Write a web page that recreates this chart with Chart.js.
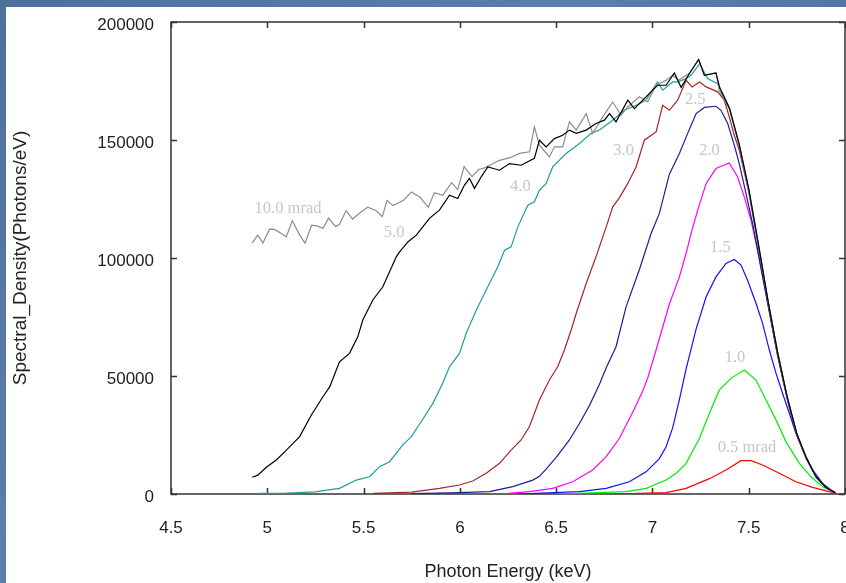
<!DOCTYPE html>
<html>
<head>
<meta charset="utf-8">
<script src="https://cdn.jsdelivr.net/npm/chart.js@4/dist/chart.umd.min.js"></script>
<style>
  html, body { margin: 0; padding: 0; }
  body {
    width: 846px; height: 583px; overflow: hidden;
    background: #5276a2;
    background-image: linear-gradient(135deg, #4d719d 0%, #5a7fab 40%, #4f739f 70%, #5879a5 100%);
  }
  #panel { position: absolute; left: 6px; top: 7px; width: 840px; height: 576px; background: #fff; }
</style>
</head>
<body>
<div id="panel"><canvas id="chartSpectra" width="840" height="576"></canvas></div>
<script>
// Spectral density curves, one per angular acceptance (mrad)
const e10 = [4.922,4.950,4.977,5.012,5.038,5.073,5.099,5.130,5.168,5.196,5.230,5.263,5.289,5.318,5.355,5.375,5.409,5.443,5.488,5.522,5.566,5.597,5.622,5.653,5.708,5.748,5.793,5.836,5.868,5.911,5.957,5.989,6.022,6.063,6.099,6.119,6.160,6.206,6.260,6.310,6.362,6.387,6.413,6.465,6.491,6.534,6.569,6.604,6.656,6.690,6.742,6.794,6.837,6.872,6.932,6.975,7.019,7.071,7.105,7.136,7.192,7.240,7.270,7.330,7.347,7.40,7.45,7.50,7.55,7.60,7.65,7.70,7.75,7.80,7.85,7.90,7.95];
const v10 = [106300,109700,106300,112200,112100,110400,109000,115800,109700,106300,113900,113500,112500,116900,113300,114300,120100,116500,119600,121500,120000,117500,124300,122200,124500,128000,125800,121500,127700,126600,131900,129000,138700,134500,137600,137900,139500,141400,142500,144300,145000,155600,147800,142800,147100,147100,157700,154200,161200,152800,159800,166100,160500,164000,168300,166100,173200,175300,177400,175300,178300,184100,177400,178400,171100,163000,148000,129000,106000,82000,60000,41000,25500,15200,7300,2900,500];

const e5 = [4.922,4.951,4.995,5.047,5.099,5.168,5.229,5.289,5.324,5.375,5.427,5.470,5.496,5.548,5.600,5.670,5.687,5.730,5.774,5.842,5.894,5.946,5.989,6.024,6.050,6.076,6.111,6.145,6.206,6.258,6.318,6.387,6.413,6.448,6.491,6.534,6.569,6.604,6.656,6.707,6.751,6.777,6.811,6.872,6.906,6.941,7.001,7.027,7.071,7.114,7.149,7.192,7.240,7.270,7.330,7.350,7.40,7.45,7.50,7.55,7.60,7.65,7.70,7.75,7.80,7.85,7.90,7.95];
const v5 = [7100,8000,11300,14400,18600,24300,33500,41200,45400,56000,59600,66600,73700,82200,87800,100500,102600,106800,109700,116800,120300,126600,125200,130900,133700,129500,134400,138600,137200,140000,139300,142200,149900,147100,150600,152000,154200,152800,154200,157000,158400,161200,157700,166900,163300,166100,171100,173200,173200,178400,172300,178200,184100,177400,178400,172000,163500,148500,129500,106000,82000,60000,41000,25500,15200,7300,2900,500];

const e4 = [4.95,5.10,5.25,5.29,5.375,5.462,5.531,5.583,5.635,5.704,5.748,5.799,5.860,5.911,5.946,5.998,6.033,6.085,6.145,6.197,6.232,6.266,6.301,6.353,6.387,6.413,6.448,6.482,6.552,6.621,6.682,6.725,6.794,6.854,6.915,6.967,7.027,7.053,7.105,7.131,7.175,7.201,7.245,7.287,7.339,7.373,7.40,7.45,7.50,7.55,7.60,7.65,7.70,7.75,7.80,7.85,7.90,7.95];
const v4 = [300,400,900,1400,2400,5900,7300,11600,13700,20800,24300,30600,38400,46900,53900,59600,68100,77900,87800,96300,103300,104700,113200,122400,123800,128700,131600,138600,144300,148500,152800,154200,158400,162600,164700,166900,174600,171100,174600,174600,176000,177500,182300,176000,173900,168300,163500,148000,129000,106000,82000,60000,41000,25500,15200,7300,2900,500];

const e3 = [5.55,5.75,5.894,5.998,6.067,6.137,6.206,6.266,6.318,6.361,6.413,6.465,6.508,6.543,6.578,6.604,6.656,6.707,6.760,6.794,6.828,6.872,6.915,6.958,7.019,7.053,7.088,7.131,7.175,7.206,7.245,7.279,7.339,7.373,7.399,7.425,7.45,7.50,7.55,7.60,7.65,7.70,7.75,7.80,7.85,7.90,7.95];
const v3 = [300,800,2400,3800,5500,8800,13000,18600,22900,28500,39800,48300,53900,61000,69500,76500,89200,100500,113200,121700,125500,131600,138600,149900,153400,164700,162600,166900,175300,172500,174600,172500,170400,166900,159800,152000,146000,128000,105000,81500,59500,40800,25300,15000,7200,2800,500];

const e25 = [5.75,5.95,6.154,6.275,6.379,6.413,6.448,6.500,6.569,6.621,6.673,6.725,6.760,6.811,6.863,6.932,6.993,7.036,7.088,7.140,7.183,7.227,7.270,7.330,7.356,7.391,7.425,7.451,7.486,7.520,7.546,7.60,7.65,7.70,7.75,7.80,7.85,7.90,7.95];
const v25 = [200,500,1000,3100,5900,7500,10500,15500,22900,29900,37500,46500,53500,62400,79300,95000,110400,118900,135500,144300,152800,161200,163800,164300,162600,157000,147800,140000,127300,114600,103300,80000,58500,40500,25000,14800,7100,2700,400];

const e20 = [6.0,6.25,6.361,6.482,6.586,6.690,6.760,6.828,6.897,6.949,6.975,7.019,7.088,7.140,7.175,7.201,7.235,7.279,7.330,7.399,7.442,7.477,7.512,7.546,7.590,7.633,7.676,7.711,7.754,7.797,7.849,7.90,7.95];
const v20 = [0,300,1000,2400,5200,10200,15800,23500,34500,43500,49000,61000,80500,92000,102000,110400,120300,131600,137900,140300,134400,125900,116000,103300,85000,66000,49000,36500,24000,15500,7200,2800,400];

const e15 = [6.3,6.621,6.760,6.880,6.967,7.036,7.071,7.105,7.140,7.175,7.227,7.279,7.330,7.382,7.425,7.460,7.494,7.538,7.572,7.607,7.642,7.676,7.711,7.745,7.789,7.832,7.884,7.927,7.95];
const v15 = [0,1000,2400,5200,9400,15000,20000,28000,40000,53000,70000,83600,92000,97700,99400,97000,90600,80800,72300,61000,51100,42600,34200,25700,17200,10200,4500,1700,600];

const e1 = [6.5,6.863,6.967,7.071,7.123,7.175,7.244,7.296,7.347,7.408,7.477,7.538,7.590,7.642,7.694,7.763,7.823,7.884,7.927,7.95];
const v1 = [0,1000,2400,5900,8800,13000,23500,34200,44000,49000,52500,48300,39800,31300,22100,13000,7300,3100,1400,600];

const e05 = [6.8,7.071,7.175,7.296,7.382,7.460,7.512,7.572,7.659,7.745,7.832,7.918,7.95];
const v05 = [0,600,2400,6500,10200,14100,14100,12300,8800,5200,2800,1000,400];

// Curve labels, anchored in data coordinates
const curveLabels = ['10.0 mrad', '5.0', '4.0', '3.0', '2.5', '2.0', '1.5', '1.0', '0.5 mrad'];
const labelEnergy = [4.934, 5.605, 6.261, 6.797, 7.169, 7.243, 7.299, 7.375, 7.339];
const labelDensity = [120700, 110700, 130100, 145300, 167300, 145300, 104200, 57600, 19800];

const xTicks = [4.5, 5, 5.5, 6, 6.5, 7, 7.5, 8];
const yTicks = [0, 50000, 100000, 150000, 200000];

function pts(es, vs) {
    return es.map((e, i) => ({ x: e, y: vs[i] }));
}

function serie(es, vs, color) {
    return {
        data: pts(es, vs),
        borderColor: color,
        borderWidth: 1.2,
        pointRadius: 0,
        tension: 0,
        fill: false
    };
}

// Marco, marcas hacia dentro y etiquetas de curvas
const marcoPlugin = {
    id: 'marco',
    beforeDatasetsDraw(chart) {
        const { ctx, chartArea: a, scales: { x, y } } = chart;
        const len = 6;
        ctx.save();
        ctx.strokeStyle = '#333';
        ctx.lineWidth = 1.5;
        ctx.strokeRect(a.left, a.top, a.right - a.left, a.bottom - a.top);
        ctx.beginPath();
        xTicks.forEach(t => {
            const px = Math.round(x.getPixelForValue(t)) + 0.5;
            ctx.moveTo(px, a.bottom); ctx.lineTo(px, a.bottom - len);
            ctx.moveTo(px, a.top); ctx.lineTo(px, a.top + len);
        });
        yTicks.forEach(t => {
            const py = Math.round(y.getPixelForValue(t)) + 0.5;
            ctx.moveTo(a.left, py); ctx.lineTo(a.left + len, py);
            ctx.moveTo(a.right, py); ctx.lineTo(a.right - len, py);
        });
        ctx.stroke();
        ctx.restore();
    },
    afterDatasetsDraw(chart) {
        const { ctx, scales: { x, y } } = chart;
        ctx.save();
        ctx.font = '16.5px "Liberation Serif", "Times New Roman", serif';
        ctx.fillStyle = '#c6c6c6';
        ctx.textBaseline = 'middle';
        ctx.textAlign = 'left';
        curveLabels.forEach((t, i) => {
            ctx.fillText(t, x.getPixelForValue(labelEnergy[i]), y.getPixelForValue(labelDensity[i]));
        });
        ctx.restore();
    }
};

const ctx = document.getElementById('chartSpectra').getContext('2d');
new Chart(ctx, {
    type: 'line',
    data: {
        datasets: [
            serie(e5, v5, '#000000'),
            serie(e10, v10, '#8c8c8c'),
            serie(e4, v4, '#1f9e9e'),
            serie(e3, v3, '#a32626'),
            serie(e25, v25, '#1c1c9c'),
            serie(e20, v20, '#ff00ff'),
            serie(e15, v15, '#1010ff'),
            serie(e1, v1, '#00ee00'),
            serie(e05, v05, '#ff0000')
        ]
    },
    options: {
        responsive: false,
        animation: false,
        devicePixelRatio: 1,
        layout: { padding: { top: 15, right: 1, left: 0, bottom: 0 } },
        plugins: { legend: { display: false }, tooltip: { enabled: false } },
        scales: {
            x: {
                type: 'linear',
                min: 4.5,
                max: 8,
                afterBuildTicks(s) { s.ticks = xTicks.map(v => ({ value: v })); },
                ticks: {
                    padding: 24,
                    maxRotation: 0,
                    autoSkip: false,
                    color: '#222',
                    font: { family: '"Liberation Sans", Arial, sans-serif', size: 17 },
                    callback: v => String(v)
                },
                grid: { display: false, drawTicks: false },
                border: { display: false },
                title: {
                    display: true,
                    text: 'Photon Energy (keV)',
                    color: '#222',
                    padding: 0,
                    font: { family: '"Liberation Sans", Arial, sans-serif', size: 18 }
                },
                afterFit(s) { s.height = 89; s.paddingLeft = 0; s.paddingRight = 0; }
            },
            y: {
                min: 0,
                max: 200000,
                afterBuildTicks(s) { s.ticks = yTicks.map(v => ({ value: v })); },
                ticks: {
                    padding: 17,
                    labelOffset: 3,
                    color: '#222',
                    font: { family: '"Liberation Sans", Arial, sans-serif', size: 17 },
                    callback: v => String(v)
                },
                grid: { display: false, drawTicks: false },
                border: { display: false },
                title: {
                    display: true,
                    text: 'Spectral_Density(Photons/eV)',
                    color: '#222',
                    padding: { top: 3, bottom: 0 },
                    font: { family: '"Liberation Sans", Arial, sans-serif', size: 19 }
                },
                afterFit(s) { s.width = 165; s.paddingTop = 0; s.paddingBottom = 0; }
            }
        }
    },
    plugins: [marcoPlugin]
});
</script>
</body>
</html>
